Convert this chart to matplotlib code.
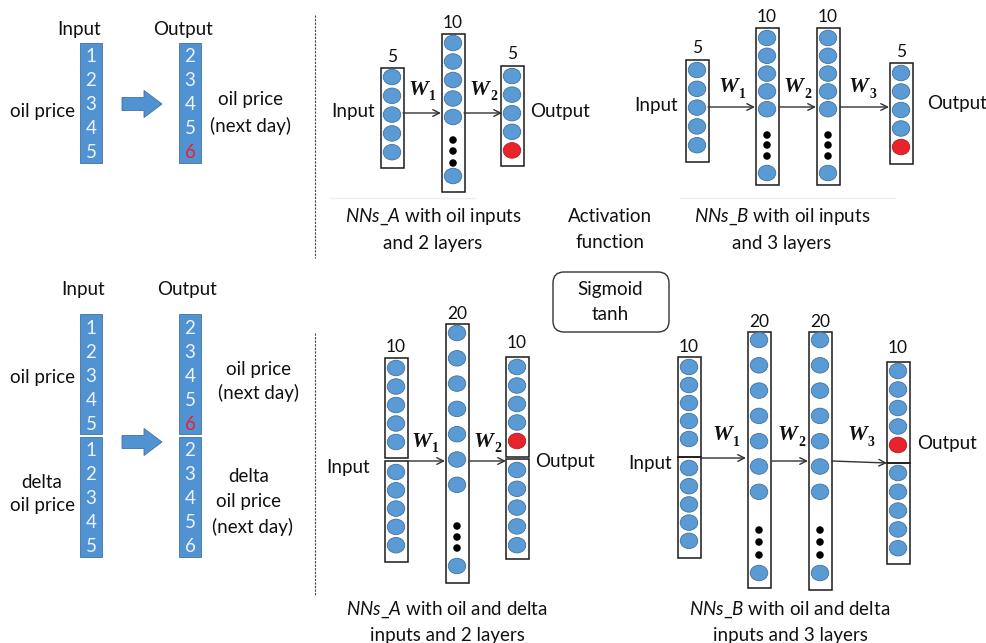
import matplotlib
matplotlib.use('Agg')
import matplotlib.pyplot as plt
from matplotlib.patches import Rectangle, Ellipse, FancyArrow, FancyBboxPatch

# ---------------- data ----------------
input_seq = ['1', '2', '3', '4', '5']
output_seq = ['2', '3', '4', '5', '6']
red_pos = 4                      # index of the predicted (red) value
top_a_sizes = [5, 10, 5]
top_b_sizes = [5, 10, 10, 5]
bot_a_sizes = [10, 20, 10]
bot_b_sizes = [10, 20, 20, 10]
weight_subs = ['1', '2', '3']
activations = ['Sigmoid', 'tanh']
captions_top = [('NNs\\_A', ' with oil inputs', 'and 2 layers'),
                ('NNs\\_B', ' with oil inputs', 'and 3 layers')]
captions_bot = [('NNs\\_A', ' with oil and delta', 'inputs and 2 layers'),
                ('NNs\\_B', ' with oil and delta', 'inputs and 3 layers')]

# ---------------- style ----------------
plt.rcParams['font.family'] = ['Lato', 'DejaVu Sans']
plt.rcParams['mathtext.fontset'] = 'custom'
plt.rcParams['mathtext.rm'] = 'Lato'
plt.rcParams['mathtext.it'] = 'Lato:italic'
plt.rcParams['mathtext.bf'] = 'Lato:bold'

BLUE = '#5b9bd5'
BLUE_E = '#41719c'
RED = '#e8232b'
RED_E = '#b01c22'
COL_FILL = '#5192d2'
FS = 13.5

W, H = 987, 643
fig = plt.figure(figsize=(9.87, 6.43), dpi=100)
ax = fig.add_axes([0, 0, 1, 1])
ax.set_xlim(0, W)
ax.set_ylim(H, 0)
ax.axis('off')


def txt(x, y, s, size=FS, **kw):
    ax.text(x, y, s, ha=kw.pop('ha', 'center'), va=kw.pop('va', 'center'),
            fontsize=size, color=kw.pop('color', '#111111'), **kw)


# ---------------- left: sequence columns ----------------
def seq_col(x0, top, values, red=None, step=24):
    ax.add_patch(Rectangle((x0, top), 22, 120, fc=COL_FILL, ec=BLUE_E, lw=0.6))
    for i, v in enumerate(values):
        c = RED if (red is not None and i == red) else '#eef3fa'
        txt(x0 + 11, top + 14 + step * i, v, size=FS, color=c)


def block_arrow(x0, x1, yc):
    ax.add_patch(FancyArrow(x0, yc, x1 - x0, 0, width=13, head_width=27,
                            head_length=18, length_includes_head=True,
                            fc=COL_FILL, ec=BLUE_E, lw=0.6))


# top left
txt(79, 29, 'Input')
txt(183, 29, 'Output')
seq_col(80, 43, input_seq)
seq_col(179, 43, output_seq, red=red_pos)
block_arrow(122, 162, 104)
txt(42, 112, 'oil price')
txt(250, 100, 'oil price')
txt(250, 126, '(next day)')

# bottom left
txt(83, 289, 'Input')
txt(187, 290, 'Output')
seq_col(80, 314, input_seq)
seq_col(80, 437, input_seq)
seq_col(179, 314, output_seq, red=red_pos)
seq_col(179, 437, output_seq)
block_arrow(122, 162, 442)
txt(42, 378, 'oil price')
txt(42, 482, 'delta')
txt(42, 505, 'oil price')
txt(258, 369, 'oil price')
txt(258, 393, '(next day)')
txt(249, 477, 'delta')
txt(249, 501, 'oil price')
txt(252, 527, '(next day)')

# dashed separators
ax.plot([315, 315], [15, 258], color='#444444', lw=0.8, ls=(0, (2, 1.2)))
ax.plot([315, 315], [333, 595], color='#444444', lw=0.8, ls=(0, (2, 1.2)))


# ---------------- networks ----------------
def node(x, y, red=False):
    ax.add_patch(Ellipse((x, y), 17.5, 15.5, fc=RED if red else BLUE,
                         ec=RED_E if red else BLUE_E, lw=0.6))


def dots(x, ys):
    for y in ys:
        ax.add_patch(Ellipse((x, y), 7.5, 7.5, fc='black', ec='none'))


def io_layer(xc, groups, size, label_y, red_idx=None, w=23):
    """groups: list of (rect_top, rect_bottom, first_circle_y, step)"""
    per = size // len(groups)
    for g, (t, b, y0, st) in enumerate(groups):
        ax.add_patch(Rectangle((xc - w / 2, t), w, b - t, fill=False,
                               ec='#1a1a1a', lw=1.1))
        for i in range(per):
            node(xc, y0 + st * i, red=(g == 0 and i == red_idx))
    txt(xc, label_y, str(size), size=12.5)


def hidden_layer(xc, t, b, y0, st, n_show, dot_ys, last_y, size, label_y, w=23):
    ax.add_patch(Rectangle((xc - w / 2, t), w, b - t, fill=False,
                           ec='#1a1a1a', lw=1.1))
    for i in range(n_show):
        node(xc, y0 + st * i)
    dots(xc, dot_ys)
    node(xc, last_y)
    txt(xc, label_y, str(size), size=12.5)


def weight(x, y, sub):
    ax.text(x + 1, y, 'W', ha='right', va='center', fontsize=16,
            family='Liberation Serif', style='italic', weight='bold', color='#111111')
    ax.text(x + 2, y + 7, sub, ha='left', va='center', fontsize=10,
            family='Liberation Serif', weight='bold', color='#111111')


def arrow(x0, y0, x1, y1):
    ax.annotate('', xy=(x1, y1), xytext=(x0, y0),
                arrowprops=dict(arrowstyle='->', lw=1.0, color='#333333',
                                shrinkA=0, shrinkB=0, mutation_scale=12))


def caption(xc, y, parts):
    it, rest, line2 = parts
    txt(xc, y, '$\\mathit{' + it + '}$' + rest)
    txt(xc, y + 26, line2)


# --- top NNs_A ---
io_layer(392, [(68, 168, 77, 18.8)], top_a_sizes[0], 57)
hidden_layer(453, 34, 192, 43, 18.5, 5, [140, 151, 163], 176, top_a_sizes[1], 23)
io_layer(512, [(66, 166, 76, 18.6)], top_a_sizes[2], 54, red_idx=red_pos)
arrow(403, 113, 441, 113)
arrow(464, 113, 502, 113)
weight(427, 90, weight_subs[0])
weight(488, 90, weight_subs[1])
txt(353, 112, 'Input')
txt(560, 112, 'Output')
ax.plot([330, 475], [198, 198], color='#f0efe6', lw=1)
caption(433, 217, captions_top[0])

# activation
txt(610, 217, 'Activation')
txt(610, 243, 'function')
ax.add_patch(FancyBboxPatch((553, 272), 116, 60,
                            boxstyle='round,pad=0,rounding_size=11',
                            fc='white', ec='#333333', lw=1.0))
txt(610, 289, activations[0])
txt(610, 315, activations[1])

# --- top NNs_B ---
io_layer(697, [(60, 162, 70, 18.8)], top_b_sizes[0], 48)
hidden_layer(767, 28, 185, 38, 17.8, 5, [135, 145, 156], 173, top_b_sizes[1], 17)
hidden_layer(828, 28, 185, 38, 17.8, 5, [135, 145, 156], 173, top_b_sizes[2], 17)
io_layer(901, [(63, 164, 73, 18.5)], top_b_sizes[3], 52, red_idx=red_pos)
arrow(708, 107, 755, 107)
arrow(779, 107, 816, 107)
arrow(840, 107, 889, 107)
weight(737, 87, weight_subs[0])
weight(802, 87, weight_subs[1])
weight(867, 87, weight_subs[2])
txt(656, 105, 'Input')
txt(957, 104, 'Output')
ax.plot([680, 895], [198, 198], color='#f0efe6', lw=1)
caption(782, 217, captions_top[1])

# --- bottom NNs_A ---
io_layer(396, [(358, 458, 368, 18.5), (461, 562, 472, 18.3)], bot_a_sizes[0], 347)
hidden_layer(457, 324, 583, 333, 25.3, 7, [526, 537, 548], 566, bot_a_sizes[1], 314)
io_layer(517, [(357, 457, 367, 18.5), (459, 559, 470, 18.8)], bot_a_sizes[2], 343,
         red_idx=red_pos)
arrow(407, 461, 445, 461)
arrow(469, 461, 506, 461)
weight(430, 442, weight_subs[0])
weight(492, 442, weight_subs[1])
txt(348, 468, 'Input')
txt(565, 462, 'Output')
caption(447, 610, captions_bot[0])

# --- bottom NNs_B ---
io_layer(689, [(357, 457, 367, 18.0), (457, 558, 468, 18.2)], bot_b_sizes[0], 347)
hidden_layer(759, 332, 588, 340, 25.3, 7, [530, 542, 555], 573, bot_b_sizes[1], 322)
hidden_layer(820, 332, 590, 340, 25.3, 7, [530, 542, 555], 573, bot_b_sizes[2], 322)
io_layer(898, [(362, 463, 371, 18.5), (463, 564, 473, 18.8)], bot_b_sizes[3], 348,
         red_idx=red_pos)
arrow(701, 458, 746, 458)
arrow(772, 461, 808, 461)
arrow(832, 461, 887, 463)
weight(731, 435, weight_subs[0])
weight(796, 435, weight_subs[1])
weight(866, 435, weight_subs[2])
txt(650, 463, 'Input')
txt(947, 444, 'Output')
caption(790, 610, captions_bot[1])

fig.savefig('out.png', dpi=100, facecolor='white')
